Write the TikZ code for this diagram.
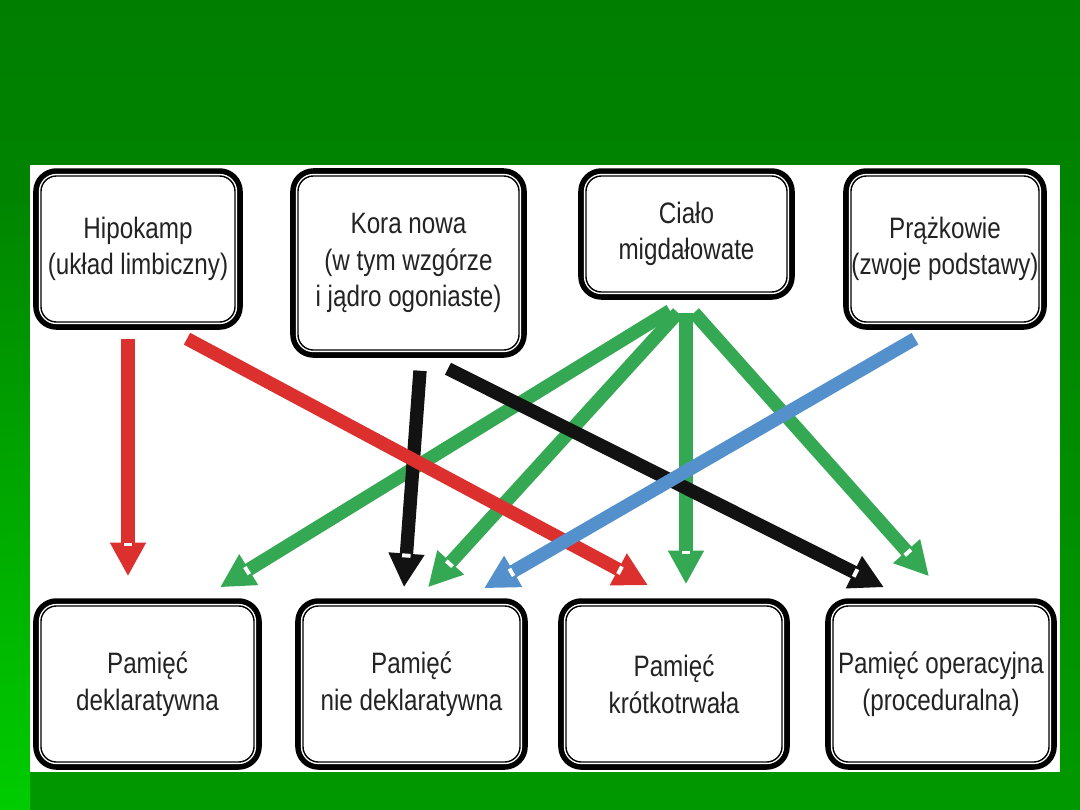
\documentclass[tikz,border=0pt]{standalone}
\usepackage{fontspec}
\usetikzlibrary{arrows.meta,calc,decorations.markings}
\newfontfamily\boxfont[FakeStretch=0.82]{Liberation Sans}
\definecolor{bgtop}{RGB}{0,126,0}
\definecolor{bgbottom}{RGB}{0,152,0}
\definecolor{stripgreen}{RGB}{0,204,0}
\definecolor{boxtext}{RGB}{35,35,35}
\definecolor{linkred}{RGB}{220,48,46}
\definecolor{linkgreen}{RGB}{52,168,82}
\definecolor{linkblue}{RGB}{84,144,204}
\definecolor{linkblack}{RGB}{18,18,18}
\tikzset{
  memobox/.style={rectangle, rounded corners=11pt, fill=white, draw=black, line width=1pt,
    preaction={draw=black, line width=11pt}, preaction={draw=white, line width=3pt},
    inner sep=0pt, align=center, text=boxtext, font=\boxfont\fontsize{21}{26}\selectfont},
  link/.style={line width=9.5pt, -{Triangle[length=24pt,width=24pt]}, postaction={decorate},
    decoration={markings, mark=at position -24pt with {\fill[white] (0,-3pt) rectangle (2.8pt,3pt);}}}
}
\begin{document}
\begin{tikzpicture}[x=0.025cm,y=-0.025cm]
\useasboundingbox (0,0) rectangle (1080,810);
\shade[top color=bgtop, bottom color=bgbottom] (0,0) rectangle (1080,810);
\shade[top color=bgtop!90!stripgreen, bottom color=stripgreen] (0,205) rectangle (30,810);
\fill[white] (30,165) rectangle (1060,772);

% zrodla
\node[memobox, minimum width=4.85cm, minimum height=3.65cm] (hip) at (138,249) {Hipokamp\\(układ limbiczny)};
\node[memobox, minimum width=5.525cm, minimum height=4.35cm] (kora) at (408.5,263) {Kora nowa\\(w tym wzgórze\\i jądro ogoniaste)};
\node[memobox, minimum width=5.025cm, minimum height=2.9cm] (ciala) at (686.5,234) {Ciało\\migdałowate};
\node[memobox, minimum width=4.7cm, minimum height=3.65cm] (prazk) at (945,249) {Prążkowie\\(zwoje podstawy)};

% rodzaje pamieci
\node[memobox, minimum width=5.325cm, minimum height=3.9cm] (dekl) at (147.5,684) {Pamięć\\deklaratywna};
\node[memobox, minimum width=5.425cm, minimum height=3.9cm] (niedek) at (411.5,684) {Pamięć\\nie deklaratywna};
\node[memobox, minimum width=5.4cm, minimum height=3.9cm] (krotko) at (674,684) {Pamięć\\krótkotrwała};
\node[memobox, minimum width=5.4cm, minimum height=3.9cm] (oper) at (941,684) {Pamięć operacyjna\\(proceduralna)};

\draw[link, linkgreen] ($(ciala.south)+(-16.5,18)$) -- ($(dekl.north)+(72.5,-18)$);
\draw[link, linkgreen] ($(ciala.south)+(-8.5,20)$) -- ($(niedek.north)+(16.5,-18)$);
\draw[link, linkgreen] ($(ciala.south)+(-0.5,20)$) -- ($(krotko.north)+(12,-21)$);
\draw[link, linkgreen] ($(ciala.south)+(7.5,20)$) -- ($(oper.north)+(-12,-29)$);
\draw[link, linkblack] ($(kora.south)+(11.5,20)$) -- ($(niedek.north)+(-7.5,-18)$);
\draw[link, linkblack] ($(kora.south)+(39.5,18)$) -- ($(oper.north)+(-57,-18)$);
\draw[link, linkred] ($(hip.south)+(-10,16)$) -- ($(dekl.north)+(-19.5,-29)$);
\draw[link, linkred] ($(hip.south)+(49,16)$) -- ($(krotko.north)+(-26,-20)$);
\draw[link, linkblue] ($(prazk.south)+(-30,16)$) -- ($(niedek.north)+(72.5,-17)$);
\end{tikzpicture}
\end{document}
